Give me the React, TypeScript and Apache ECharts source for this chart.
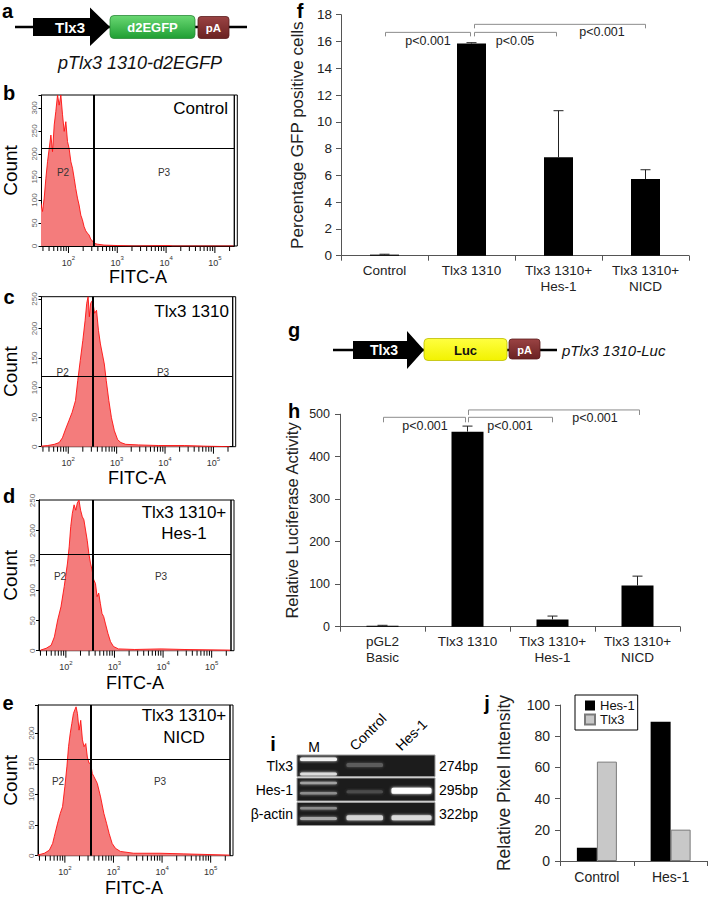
import React, { useEffect, useRef } from 'react';
import * as echarts from 'echarts';

const FONT = "'Liberation Sans', Arial, Helvetica, sans-serif";

// ---------- Panels b-e : flow cytometry histograms (FITC-A intensity vs event count) ----------
const ctrlFitc = [27.2, 29.4, 31.8, 34.4, 37.2, 40.3, 43.6, 47.1, 51, 55, 59.7, 64.5, 69.8, 75.5, 81.7, 88.3, 95.5, 103, 112, 121, 131, 141, 153, 165, 179, 193, 209, 226, 244, 264, 286, 309, 334, 390, 535, 1000, 2190, 12300, 13500, 240000];
const ctrlCount = [93, 75, 104, 147, 183, 212, 241, 205, 263, 292, 328, 306, 328, 285, 249, 270, 227, 212, 183, 169, 147, 125, 104, 89, 67, 57, 42, 33, 28, 24, 15, 11, 6, 4, 2, 1, 0, 1, 0, 0];

const tlxFitc = [27.7, 37.8, 51.4, 64.9, 75.7, 88.3, 103, 120, 141, 157, 177, 200, 223, 241, 257, 273, 290, 318, 350, 384, 421, 462, 507, 556, 610, 690, 781, 898, 1047, 1222, 1541, 2860, 7220, 24900, 63000, 217000];
const tlxCount = [1, 2, 4, 7, 15, 30, 44, 58, 78, 112, 146, 180, 214, 243, 254, 220, 243, 248, 226, 231, 197, 174, 157, 140, 112, 78, 49, 27, 12, 7, 4, 3, 2, 2, 1, 0];

const hesFitc = [30.2, 39.3, 49.7, 58, 67.8, 79.2, 92.5, 108, 117, 126, 136, 147.6, 160, 172, 186, 201, 218, 235, 254, 275, 297, 321, 347, 375, 406, 439, 474, 512, 554, 599, 647, 733, 830, 955, 1205, 2620, 9100, 27000, 239000];
const hesCount = [1, 4, 9, 23, 51, 73, 107, 146, 173, 207, 229, 243, 234, 246, 251, 234, 223, 218, 201, 184, 162, 146, 134, 118, 112, 90, 96, 79, 62, 57, 46, 29, 15, 7, 3, 2, 3, 2, 1];

const nicdFitc = [27.7, 37.9, 47.9, 56, 60.5, 70.8, 80.3, 89.6, 100, 110, 119, 128.5, 139, 150, 160, 170, 181.5, 196, 212, 230, 248, 269, 290, 314, 340, 367, 397, 465, 543, 635, 720, 816, 940, 1100, 1390, 2600, 9100, 27200, 244000];
const nicdCount = [1, 4, 9, 20, 31, 53, 69, 80, 113, 145, 178, 199, 216, 232, 238, 243, 232, 205, 221, 189, 178, 183, 161, 151, 151, 134, 129, 118, 96, 69, 53, 36, 20, 12, 7, 4, 4, 3, 1];

const facsTitles = [['Control'], ['Tlx3 1310'], ['Tlx3 1310+', 'Hes-1'], ['Tlx3 1310+', 'NICD']];
const facsGateFitc = [330, 324, 358, 339];
const facsGateCount = [213, 119, 161, 157];
const facsCountMax = [328, 254, 251, 246];
const facsFitcMin = 28;
const facsFitcMax = 250000;

// ---------- Panel f ----------
const gfpCategories = ['Control', 'Tlx3 1310', 'Tlx3 1310+\nHes-1', 'Tlx3 1310+\nNICD'];
const gfpPercent = [0.08, 15.85, 7.35, 5.73];
const gfpError = [0.03, 0.06, 3.48, 0.69];
const gfpBrackets = [
  { from: 0, to: 1, level: 16.68, text: 'p<0.001', textLevel: 16.06, textBetween: [0, 1], shiftFrom: 1, shiftTo: -1 },
  { from: 1, to: 2, level: 16.68, text: 'p<0.05', textLevel: 16.06, textBetween: [1, 2], shiftFrom: 3, shiftTo: -2 },
  { from: 1, to: 3, level: 17.28, text: 'p<0.001', textLevel: 16.68, textBetween: [2, 3], shiftFrom: 3, shiftTo: 0 },
];

// ---------- Panel h ----------
const lucCategories = ['pGL2\nBasic', 'Tlx3 1310', 'Tlx3 1310+\nHes-1', 'Tlx3 1310+\nNICD'];
const lucActivity = [2.5, 459, 17, 97];
const lucError = [0.8, 13, 8, 22];
const lucBrackets = [
  { from: 0, to: 1, level: 492.7, text: 'p<0.001', textLevel: 472, textBetween: [0, 1], shiftFrom: 1, shiftTo: -2 },
  { from: 1, to: 2, level: 492.7, text: 'p<0.001', textLevel: 472, textBetween: [1, 2], shiftFrom: 1, shiftTo: 0 },
  { from: 1, to: 3, level: 510, text: 'p<0.001', textLevel: 491, textBetween: [2, 3], shiftFrom: 1, shiftTo: 2 },
];

// ---------- Panel j ----------
const pixCategories = ['Control', 'Hes-1'];
const pixHes1 = [8.5, 89.3];
const pixTlx3 = [63.7, 20.1];

// ---------- Panel i (gel) ----------
const gelRows = ['Tlx3', 'Hes-1', 'β-actin'];
const gelSizes = ['274bp', '295bp', '322bp'];
const gelLanes = ['M', 'Control', 'Hes-1'];
const gelBands = [
  { lane: 0, row: 0, pos: 0.2, thick: 3.5, shade: '#f2f2f2' },
  { lane: 0, row: 0, pos: 0.88, thick: 3, shade: '#dcdcdc' },
  { lane: 1, row: 0, pos: 0.47, thick: 4, shade: '#5c5c5c' },
  { lane: 0, row: 1, pos: 0.22, thick: 2.5, shade: '#a0a0a0' },
  { lane: 0, row: 1, pos: 0.66, thick: 2.5, shade: '#8c8c8c' },
  { lane: 1, row: 1, pos: 0.6, thick: 3, shade: '#4c4c4c' },
  { lane: 2, row: 1, pos: 0.55, thick: 6, shade: '#ffffff' },
  { lane: 0, row: 2, pos: 0.25, thick: 2.5, shade: '#8c8c8c' },
  { lane: 0, row: 2, pos: 0.7, thick: 3, shade: '#a8a8a8' },
  { lane: 1, row: 2, pos: 0.66, thick: 5, shade: '#d4d4d4' },
  { lane: 2, row: 2, pos: 0.66, thick: 5, shade: '#dadada' },
];

// ---------- layout ----------
const facsLayout = [
  { left: 40, top: 95, width: 194.3, height: 151, xNameGap: 22, yNameGap: 21.5, letter: 'b', letterX: 9, letterY: 93, titleX: 228, titleY: 108, titleAlign: 'right', p2: [63, 172], p3: [164, 172] },
  { left: 40, top: 296.7, width: 192.7, height: 150, xNameGap: 22, yNameGap: 21.5, letter: 'c', letterX: 9, letterY: 297, titleX: 229, titleY: 311, titleAlign: 'right', p2: [62.7, 372.7], p3: [163, 372.7] },
  { left: 37.7, top: 500, width: 193.3, height: 150.7, xNameGap: 23, yNameGap: 19, letter: 'd', letterX: 9, letterY: 496, titleX: 184, titleY: 512, titleAlign: 'center', p2: [60, 576.7], p3: [161, 576.7] },
  { left: 36.7, top: 705, width: 193.3, height: 150.7, xNameGap: 23, yNameGap: 18, letter: 'e', letterX: 8, letterY: 703, titleX: 184, titleY: 715.5, titleAlign: 'center', p2: [58, 781.7], p3: [160, 781.7] },
];

function txt(x: number, y: number, text: string, o: any = {}) {
  const align = o.align || 'center';
  const va = o.va || 'middle';
  const style: any = {
    text,
    fontSize: o.size || 14,
    fontWeight: o.weight || 'normal',
    fontStyle: o.style || 'normal',
    fontFamily: FONT,
    fill: o.color || '#000',
    align,
    verticalAlign: va,
    textAlign: align,
    textVerticalAlign: va,
  };
  if (o.lineHeight) style.lineHeight = o.lineHeight;
  return { type: 'text', x, y, silent: true, z: 100, style };
}

function letter(x: number, y: number, t: string) {
  return txt(x, y, t, { size: 20, weight: 'bold', lineHeight: 20 });
}

function logLabel(v: number) {
  const l = Math.log10(v);
  const n = Math.round(l);
  if (Math.abs(l - n) < 1e-6 && n >= 2 && n <= 5) return `{b|10}{s|${n}}`;
  return '';
}

function facsTickValues() {
  const out: number[] = [];
  for (let e = 1; e <= 5; e++) {
    for (let k = 1; k <= 9; k++) {
      const v = k * Math.pow(10, e);
      if (v >= facsFitcMin && v <= facsFitcMax) out.push(v);
    }
  }
  return out;
}

function errorBarSeries(idx: number, values: number[], errors: number[]) {
  return {
    type: 'custom',
    xAxisIndex: idx,
    yAxisIndex: idx,
    silent: true,
    z: 4,
    data: values.map((v, k) => [k, v, errors[k]]),
    renderItem: (_params: any, api: any) => {
      const k = api.value(0);
      const v = api.value(1);
      const e = api.value(2);
      const base = api.coord([k, v]);
      const top = api.coord([k, v + e]);
      return {
        type: 'group',
        children: [
          { type: 'line', shape: { x1: base[0], y1: base[1], x2: base[0], y2: top[1] }, style: { stroke: '#222', lineWidth: 1 } },
          { type: 'line', shape: { x1: base[0] - 5, y1: top[1], x2: base[0] + 5, y2: top[1] }, style: { stroke: '#222', lineWidth: 1 } },
        ],
      };
    },
  };
}

function bracketSeries(idx: number, brackets: any[], drop: number, fontSize: number) {
  return {
    type: 'custom',
    xAxisIndex: idx,
    yAxisIndex: idx,
    silent: true,
    clip: false,
    z: 5,
    data: brackets.map((b) => [b.from, b.level]),
    renderItem: (params: any, api: any) => {
      const b = brackets[params.dataIndex];
      const p1 = api.coord([b.from, b.level]);
      const p2 = api.coord([b.to, b.level]);
      const x1 = p1[0] + b.shiftFrom;
      const x2 = p2[0] + b.shiftTo;
      const y = p1[1];
      const ta = api.coord([b.textBetween[0], b.textLevel]);
      const tb = api.coord([b.textBetween[1], b.textLevel]);
      return {
        type: 'group',
        children: [
          { type: 'polyline', shape: { points: [[x1, y + drop], [x1, y], [x2, y], [x2, y + drop]] }, style: { stroke: '#8c8c8c', fill: 'none', lineWidth: 1 } },
          {
            type: 'text',
            x: (ta[0] + tb[0]) / 2,
            y: ta[1],
            style: { text: b.text, fontSize, fontFamily: FONT, fill: '#222', align: 'center', verticalAlign: 'middle', textAlign: 'center', textVerticalAlign: 'middle' },
          },
        ],
      };
    },
  };
}

function buildOption() {
  const grid: any[] = [];
  const xAxis: any[] = [];
  const yAxis: any[] = [];
  const series: any[] = [];
  const graphic: any[] = [];
  const ticks = facsTickValues();

  const facsData = [
    { fitc: ctrlFitc, count: ctrlCount },
    { fitc: tlxFitc, count: tlxCount },
    { fitc: hesFitc, count: hesCount },
    { fitc: nicdFitc, count: nicdCount },
  ];

  facsData.forEach((d, i) => {
    const L = facsLayout[i];
    grid.push({ left: L.left, top: L.top, width: L.width, height: L.height, show: true, borderColor: '#000', borderWidth: 1, backgroundColor: 'transparent' });
    xAxis.push({
      gridIndex: i,
      type: 'log',
      logBase: 10,
      min: facsFitcMin,
      max: facsFitcMax,
      axisLine: { show: true, onZero: false, lineStyle: { color: '#000', width: 1 } },
      axisTick: { show: false },
      splitLine: { show: false },
      axisLabel: {
        margin: 9,
        formatter: logLabel,
        rich: {
          b: { fontSize: 9, color: '#333', fontFamily: FONT, lineHeight: 12, verticalAlign: 'bottom' },
          s: { fontSize: 6, color: '#333', fontFamily: FONT, lineHeight: 12, verticalAlign: 'top' },
        },
      },
      name: 'FITC-A',
      nameLocation: 'middle',
      nameGap: L.xNameGap,
      nameTextStyle: { fontSize: 18, fontFamily: FONT, color: '#000' },
    });
    yAxis.push({
      gridIndex: i,
      type: 'value',
      min: 0,
      max: facsCountMax[i],
      interval: 50,
      axisLine: { show: true, onZero: false, lineStyle: { color: '#000', width: 1 } },
      axisTick: { show: true, length: 3, lineStyle: { color: '#000' } },
      splitLine: { show: false },
      axisLabel: {
        rotate: 90,
        fontSize: 8,
        color: '#666',
        margin: 3,
        fontFamily: FONT,
        formatter: (v: number) => (v % 50 === 0 ? String(v) : ''),
      },
      name: 'Count',
      nameLocation: 'middle',
      nameGap: L.yNameGap,
      nameTextStyle: { fontSize: 19, fontFamily: FONT, color: '#000' },
    });
    series.push({
      type: 'line',
      xAxisIndex: i,
      yAxisIndex: i,
      data: d.fitc.map((v, k) => [v, d.count[k]]),
      symbol: 'none',
      showSymbol: false,
      smooth: false,
      z: 2,
      lineStyle: { color: '#ff1010', width: 0.9 },
      areaStyle: { color: '#f47c7c', opacity: 1 },
      markLine: {
        silent: true,
        symbol: ['none', 'none'],
        label: { show: false },
        data: [
          { xAxis: facsGateFitc[i], lineStyle: { color: '#000', width: 2, type: 'solid' } },
          { yAxis: facsGateCount[i], lineStyle: { color: '#000', width: 1, type: 'solid' } },
        ],
      },
    });
    series.push({
      type: 'custom',
      xAxisIndex: i,
      yAxisIndex: i,
      silent: true,
      clip: false,
      data: ticks.map((v) => [v, 0]),
      renderItem: (_p: any, api: any) => {
        const v = api.value(0);
        const p = api.coord([v, 0]);
        const l = Math.log10(v);
        const major = Math.abs(l - Math.round(l)) < 1e-9;
        return { type: 'line', shape: { x1: p[0], y1: p[1], x2: p[0], y2: p[1] + (major ? 7 : 5) }, style: { stroke: '#000', lineWidth: 1 } };
      },
    });
    // second (outer) right border line typical of the cytometer export
    graphic.push({
      type: 'rect',
      silent: true,
      shape: { x: L.left + L.width, y: L.top, width: 3, height: L.height },
      style: { fill: 'none', stroke: '#000', lineWidth: 1 },
    });
    facsTitles[i].forEach((t, k) => {
      graphic.push(txt(L.titleX, L.titleY + k * 21.5, t, { size: 17, align: L.titleAlign }));
    });
    graphic.push(txt(L.p2[0], L.p2[1], 'P2', { size: 10, color: '#333' }));
    graphic.push(txt(L.p3[0], L.p3[1], 'P3', { size: 10, color: '#333' }));
    graphic.push(letter(L.letterX, L.letterY, L.letter));
  });

  // ---- Panel f (index 4) ----
  grid.push({ left: 341, top: 14.7, width: 348, height: 241 });
  xAxis.push({
    gridIndex: 4,
    type: 'category',
    data: gfpCategories,
    axisLine: { show: true, onZero: false, lineStyle: { color: '#555' } },
    axisTick: { show: true, alignWithLabel: false, length: 5, lineStyle: { color: '#555' } },
    axisLabel: { fontSize: 13.5, color: '#222', fontFamily: FONT, lineHeight: 16, margin: 7, interval: 0 },
  });
  yAxis.push({
    gridIndex: 4,
    type: 'value',
    min: 0,
    max: 18,
    interval: 2,
    axisLine: { show: true, lineStyle: { color: '#555' } },
    axisTick: { show: true, length: 5, lineStyle: { color: '#555' } },
    splitLine: { show: false },
    axisLabel: { fontSize: 13.5, color: '#222', fontFamily: FONT, margin: 9 },
    name: 'Percentage GFP positive cells',
    nameLocation: 'middle',
    nameGap: 35,
    nameTextStyle: { fontSize: 17, fontFamily: FONT, color: '#222' },
  });
  series.push({ type: 'bar', xAxisIndex: 4, yAxisIndex: 4, data: gfpPercent, barWidth: 29, itemStyle: { color: '#000' }, z: 2 });
  series.push(errorBarSeries(4, gfpPercent, gfpError));
  series.push(bracketSeries(4, gfpBrackets, 4, 12.5));

  // ---- Panel h (index 5) ----
  grid.push({ left: 340, top: 414.2, width: 340, height: 212.5 });
  xAxis.push({
    gridIndex: 5,
    type: 'category',
    data: lucCategories,
    axisLine: { show: true, onZero: false, lineStyle: { color: '#555' } },
    axisTick: { show: true, alignWithLabel: false, length: 5, lineStyle: { color: '#555' } },
    axisLabel: { fontSize: 13.5, color: '#222', fontFamily: FONT, lineHeight: 16, margin: 7, interval: 0 },
  });
  yAxis.push({
    gridIndex: 5,
    type: 'value',
    min: 0,
    max: 500,
    interval: 100,
    axisLine: { show: true, lineStyle: { color: '#555' } },
    axisTick: { show: true, length: 5, lineStyle: { color: '#555' } },
    splitLine: { show: false },
    axisLabel: { fontSize: 12.5, color: '#222', fontFamily: FONT, margin: 10 },
    name: 'Relative Luciferase Activity',
    nameLocation: 'middle',
    nameGap: 40,
    nameTextStyle: { fontSize: 16.5, fontFamily: FONT, color: '#222' },
  });
  series.push({ type: 'bar', xAxisIndex: 5, yAxisIndex: 5, data: lucActivity, barWidth: 32, itemStyle: { color: '#000' }, z: 2 });
  series.push(errorBarSeries(5, lucActivity, lucError));
  series.push(bracketSeries(5, lucBrackets, 5, 12.5));

  // ---- Panel j (index 6) ----
  grid.push({ left: 560, top: 705, width: 147.5, height: 156 });
  xAxis.push({
    gridIndex: 6,
    type: 'category',
    data: pixCategories,
    axisLine: { show: true, onZero: false, lineStyle: { color: '#555' } },
    axisTick: { show: true, alignWithLabel: false, length: 5, lineStyle: { color: '#555' } },
    axisLabel: { fontSize: 14, color: '#222', fontFamily: FONT, margin: 9, interval: 0 },
  });
  yAxis.push({
    gridIndex: 6,
    type: 'value',
    min: 0,
    max: 100,
    interval: 20,
    axisLine: { show: true, lineStyle: { color: '#555' } },
    axisTick: { show: true, length: 5, lineStyle: { color: '#555' } },
    splitLine: { show: false },
    axisLabel: { fontSize: 14, color: '#222', fontFamily: FONT, margin: 10 },
    name: 'Relative Pixel Intensity',
    nameLocation: 'middle',
    nameGap: 47,
    nameTextStyle: { fontSize: 17.5, fontFamily: FONT, color: '#222' },
  });
  series.push({ type: 'bar', name: 'Hes-1', xAxisIndex: 6, yAxisIndex: 6, data: pixHes1, barWidth: 20, barGap: '0%', itemStyle: { color: '#000' } });
  series.push({ type: 'bar', name: 'Tlx3', xAxisIndex: 6, yAxisIndex: 6, data: pixTlx3, barWidth: 20, barGap: '0%', itemStyle: { color: '#c8c8c8', borderColor: '#7a7a7a', borderWidth: 1 } });

  // ---- Panel i lane labels: a label-only category axis above the gel (index 7) ----
  grid.push({ left: 283, top: 755, width: 138, height: 70 });
  xAxis.push({
    gridIndex: 7,
    type: 'category',
    position: 'top',
    data: gelLanes,
    axisLine: { show: false },
    axisTick: { show: false },
    splitLine: { show: false },
    axisLabel: {
      rotate: 45,
      interval: 0,
      margin: 7,
      fontSize: 14,
      color: '#000',
      fontFamily: FONT,
      formatter: (v: string) => (v === 'M' ? '' : v),
    },
  });
  yAxis.push({ gridIndex: 7, type: 'value', show: false, min: 0, max: 1 });

  // ---- Panel a construct ----
  const green = { type: 'linear', x: 0, y: 0, x2: 0, y2: 1, colorStops: [{ offset: 0, color: '#6ad873' }, { offset: 1, color: '#1f9e33' }] };
  const maroon = { type: 'linear', x: 0, y: 0, x2: 0, y2: 1, colorStops: [{ offset: 0, color: '#9a4343' }, { offset: 1, color: '#6a2222' }] };
  const yellow = { type: 'linear', x: 0, y: 0, x2: 0, y2: 1, colorStops: [{ offset: 0, color: '#ffff40' }, { offset: 1, color: '#f2f200' }] };
  graphic.push(
    { type: 'line', silent: true, shape: { x1: 15, y1: 27, x2: 247, y2: 27 }, style: { stroke: '#000', lineWidth: 2.5 } },
    { type: 'polygon', silent: true, shape: { points: [[33, 18], [90, 18], [90, 7.5], [110, 27], [90, 46], [90, 36], [33, 36]] }, style: { fill: '#000' } },
    txt(70, 27, 'Tlx3', { size: 15, weight: 'bold', color: '#fff' }),
    { type: 'rect', silent: true, shape: { x: 110, y: 15.5, width: 85, height: 23, r: 4 }, style: { fill: green, stroke: '#2b8a38', lineWidth: 0.8 } },
    txt(152.5, 27, 'd2EGFP', { size: 13, weight: 'bold', color: '#fff' }),
    { type: 'rect', silent: true, shape: { x: 198, y: 16.5, width: 31, height: 22, r: 3 }, style: { fill: maroon, stroke: '#5a1c1c', lineWidth: 0.8 } },
    txt(213.5, 27.5, 'pA', { size: 11.5, weight: 'bold', color: '#fff' }),
    txt(140, 63, 'pTlx3 1310-d2EGFP', { size: 18, style: 'italic', color: '#111' }),
    letter(7.5, 11, 'a'),
  );

  // ---- Panel g construct ----
  graphic.push(
    { type: 'line', silent: true, shape: { x1: 333, y1: 350, x2: 557, y2: 350 }, style: { stroke: '#000', lineWidth: 2.5 } },
    { type: 'polygon', silent: true, shape: { points: [[353, 341], [407, 341], [407, 331], [424, 350], [407, 369], [407, 359], [353, 359]] }, style: { fill: '#000' } },
    txt(384, 350, 'Tlx3', { size: 14, weight: 'bold', color: '#fff' }),
    { type: 'rect', silent: true, shape: { x: 424, y: 338.5, width: 83, height: 22, r: 4 }, style: { fill: yellow, stroke: '#bdbd00', lineWidth: 0.8 } },
    txt(465.5, 350, 'Luc', { size: 13, weight: 'bold', color: '#111' }),
    { type: 'rect', silent: true, shape: { x: 509, y: 339, width: 31, height: 20, r: 3 }, style: { fill: maroon, stroke: '#5a1c1c', lineWidth: 0.8 } },
    txt(524.5, 349.5, 'pA', { size: 11, weight: 'bold', color: '#fff' }),
    txt(562, 350, 'pTlx3 1310-Luc', { size: 15, style: 'italic', color: '#111', align: 'left' }),
    letter(294, 330, 'g'),
  );

  // ---- other panel letters ----
  graphic.push(letter(300, 11, 'f'), letter(294, 411, 'h'), letter(273, 744, 'i'), letter(487, 703, 'j'));

  // ---- Panel i gel ----
  const gelX = 297;
  const gelW = 138;
  const rowBox = [[755, 21.5], [778, 23], [802.5, 23]];
  const laneSpan = [[300, 337], [346.5, 383], [391.5, 431.5]];
  rowBox.forEach(([y, h], r) => {
    graphic.push({ type: 'rect', silent: true, shape: { x: gelX, y, width: gelW, height: h }, style: { fill: '#1c1c1c', stroke: '#9a9a9a', lineWidth: 1 } });
    graphic.push(txt(293, y + h / 2, gelRows[r], { size: 14, align: 'right' }));
    graphic.push(txt(439, y + h / 2, gelSizes[r], { size: 14, align: 'left' }));
  });
  gelBands.forEach((b) => {
    const [y, h] = rowBox[b.row];
    const [x1, x2] = laneSpan[b.lane];
    const cy = y + h * b.pos;
    graphic.push({
      type: 'rect',
      silent: true,
      shape: { x: x1, y: cy - b.thick / 2, width: x2 - x1, height: b.thick, r: 1.5 },
      style: { fill: b.shade, shadowColor: b.shade, shadowBlur: 3 },
    });
  });
  graphic.push(txt(314, 746.5, gelLanes[0], { size: 14 }));

  return {
    animation: false,
    backgroundColor: '#fff',
    textStyle: { fontFamily: FONT },
    grid,
    xAxis,
    yAxis,
    series,
    legend: {
      data: ['Hes-1', 'Tlx3'],
      orient: 'vertical',
      left: 575,
      top: 695,
      icon: 'rect',
      itemWidth: 10,
      itemHeight: 10,
      itemGap: 1,
      padding: [4, 3, 4, 9],
      borderColor: '#000',
      borderWidth: 1,
      selectedMode: false,
      textStyle: { fontSize: 13, fontFamily: FONT, color: '#111' },
    },
    graphic: { elements: graphic },
  };
}

export default function App() {
  const ref = useRef<HTMLDivElement>(null);
  useEffect(() => {
    if (!ref.current) return;
    const chart = echarts.init(ref.current, null, { renderer: 'svg' });
    chart.setOption(buildOption() as any);
    return () => chart.dispose();
  }, []);
  return <div ref={ref} style={{ position: 'absolute', left: 0, top: 0, width: 708, height: 899, background: '#fff' }} />;
}
